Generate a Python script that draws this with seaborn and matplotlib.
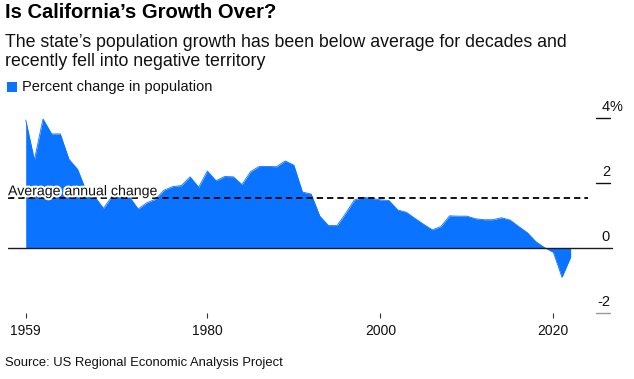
import numpy as np
import pandas as pd
import matplotlib
matplotlib.use("Agg")
import matplotlib.pyplot as plt
import matplotlib.transforms as mtransforms
from matplotlib.patches import Rectangle
import matplotlib.patheffects as pe
import seaborn as sns

# 数据
years = list(range(1959, 2023))
pct_change = [
    3.94, 2.71, 3.97, 3.51, 3.51, 2.73, 2.42, 1.75, 1.57, 1.22,  # 1959-1968
    1.60, 1.60, 1.57, 1.20, 1.39, 1.50, 1.78, 1.89, 1.92, 2.19,  # 1969-1978
    1.87, 2.37, 2.07, 2.20, 2.19, 1.95, 2.35, 2.51, 2.51, 2.50,  # 1979-1988
    2.68, 2.55, 1.72, 1.66, 0.98, 0.69, 0.69, 1.07, 1.48, 1.56,  # 1989-1998
    1.53, 1.48, 1.46, 1.17, 1.10, 0.91, 0.73, 0.56, 0.66, 0.99,  # 1999-2008
    0.98, 0.98, 0.90, 0.87, 0.87, 0.93, 0.86, 0.66, 0.47, 0.19,  # 2009-2018
    0.01, -0.13, -0.90, -0.28,                                   # 2019-2022
]
avg_change = 1.53
x_ticks = [1959, 1980, 2000, 2020]
y_ticks = [4, 2, 0, -2]
y_tick_labels = ["4", "2", "0", "-2"]

title = "Is California’s Growth Over?"
subtitle = ("The state’s population growth has been below average for decades and\n"
            "recently fell into negative territory")
legend_label = "Percent change in population"
source = "Source: US Regional Economic Analysis Project"

blue = "#0a73ff"

df = pd.DataFrame({"year": years, "pct": pct_change})

sns.set_theme(style="white")
plt.rcParams["font.family"] = ["Liberation Sans", "DejaVu Sans"]

W, H = 634, 379
fig = plt.figure(figsize=(W / 100, H / 100), dpi=100)

# 画布像素 -> 坐标轴位置
ax_l, ax_r, ax_t, ax_b = 8, 614, 100, 318
ax = fig.add_axes([ax_l / W, 1 - ax_b / H, (ax_r - ax_l) / W, (ax_b - ax_t) / H])

# 面积图
sns.lineplot(data=df, x="year", y="pct", ax=ax, color=blue, linewidth=0.6)
ax.fill_between(df["year"], df["pct"], 0, color=blue, linewidth=0)

px_per_year = 8.65
x0 = 1959 - (25.7 - ax_l) / px_per_year
x1 = 1959 + (ax_r - 25.7) / px_per_year
px_per_unit = 32.5
y_top = (248 - ax_t) / px_per_unit
y_bot = (248 - ax_b) / px_per_unit
ax.set_xlim(x0, x1)
ax.set_ylim(y_bot, y_top)

for s in ax.spines.values():
    s.set_visible(False)
ax.grid(False)
ax.set_xlabel("")
ax.set_ylabel("")

# x 轴刻度
ax.set_xticks(x_ticks)
ax.set_xticklabels([str(t) for t in x_ticks], fontsize=10, color="#111111")
ax.tick_params(axis="x", direction="in", length=3.5, width=0.8, color="#333333", pad=4, bottom=True)
ax.set_yticks([])

trans = mtransforms.blended_transform_factory(ax.transAxes, ax.transData)
def fx(p):
    return (p - ax_l) / (ax_r - ax_l)

# 零线
ax.plot([0, fx(612)], [0, 0], transform=trans, color="#1a1a2a", linewidth=1.0, zorder=3)

# 平均线
ax.plot([0, fx(588)], [avg_change, avg_change], transform=trans, color="black",
        linewidth=1.3, linestyle=(0, (3.5, 2.2)), zorder=4)
ax.text(0, avg_change, "Average annual change", transform=trans, fontsize=10.2,
        ha="left", va="bottom", color="#111111", zorder=5,
        path_effects=[pe.withStroke(linewidth=3, foreground="white")])

# 右侧 y 刻度
for v, lab in zip(y_ticks, y_tick_labels):
    c = "#999999" if v < 0 else "#111111"
    if v != 0:
        ax.plot([fx(596), fx(610)], [v, v], transform=trans, color=c, linewidth=1.0,
                clip_on=False)
    ax.annotate(lab, xy=(fx(610), v), xycoords=trans, xytext=(0, 3),
                textcoords="offset points", ha="right", va="bottom", fontsize=10.5,
                color="#111111", annotation_clip=False)
ax.annotate("%", xy=(fx(610), 4), xycoords=trans, xytext=(0, 3),
            textcoords="offset points", ha="left", va="bottom", fontsize=10.5,
            color="#111111", annotation_clip=False)

# 标题、副标题、图例、来源
fig.text(5 / W, 1 - 13 / H, title, fontsize=14.5, fontweight="bold", ha="left",
         va="center", color="black")
fig.text(5 / W, 1 - 52 / H, subtitle, fontsize=12.8, ha="left", va="center",
         color="#111111", linespacing=1.1)
fig.add_artist(Rectangle((7 / W, 1 - 92 / H), 10 / W, 10 / H, transform=fig.transFigure,
                         facecolor=blue, edgecolor="none"))
fig.text(22 / W, 1 - 87 / H, legend_label, fontsize=10.5, ha="left", va="center",
         color="#111111")
fig.text(5 / W, 1 - 363 / H, source, fontsize=9.4, ha="left", va="center",
         color="#111111")

fig.savefig("out.png", dpi=100)
plt.close(fig)
